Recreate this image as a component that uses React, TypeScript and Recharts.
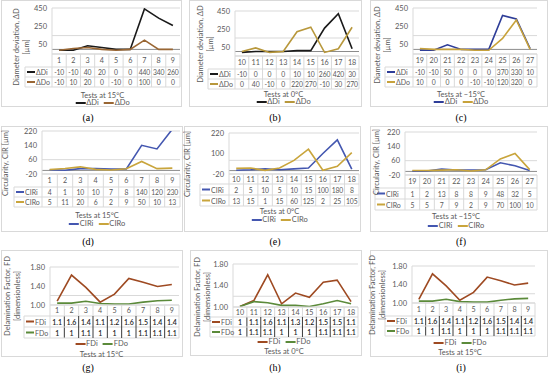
import React from "react";
import { LineChart, Line, XAxis, YAxis, CartesianGrid, ReferenceLine } from "recharts";

const GRID = "#d9d9d9";
const TXT = "#595959";
const FONT = "Lato, 'Liberation Sans', sans-serif";

// test numbers
const tests15 = ["1", "2", "3", "4", "5", "6", "7", "8", "9"];
const tests0 = ["10", "11", "12", "13", "14", "15", "16", "17", "18"];
const testsM15 = ["19", "20", "21", "22", "23", "24", "25", "26", "27"];

// diameter deviation (µm)
const dDi15 = [-10, -10, 40, 20, 0, 0, 440, 340, 260];
const dDo15 = [-10, 10, 20, 0, -10, 0, 100, 0, 0];
const dDi0 = [-10, 0, 0, 0, 10, 10, 260, 420, 30];
const dDo0 = [0, 40, -10, 0, 220, 270, -10, 30, 270];
const dDiM15 = [-10, -10, 50, 0, 0, 0, 370, 330, 10];
const dDoM15 = [10, 0, 0, 0, -10, -10, 120, 320, 0];

// circularity (µm)
const cirI15 = [4, 1, 10, 10, 7, 8, 140, 120, 230];
const cirO15 = [5, 11, 20, 6, 2, 9, 50, 10, 13];
const cirI0 = [2, 5, 10, 5, 10, 15, 100, 180, 8];
const cirO0 = [13, 15, 1, 15, 60, 125, 2, 25, 105];
const cirIM15 = [1, 2, 13, 8, 8, 9, 48, 32, 5];
const cirOM15 = [5, 5, 7, 9, 2, 9, 70, 100, 10];

// delamination factor
const fdI15 = [1.08, 1.63, 1.37, 1.06, 1.23, 1.56, 1.48, 1.39, 1.43];
const fdO15 = [1.04, 1.04, 1.08, 1.03, 1.02, 1.02, 1.06, 1.09, 1.1];
const fdI0 = [1.01, 1.12, 1.6, 1.06, 1.26, 1.18, 1.46, 1.5, 1.1];
const fdO0 = [1.01, 1.1, 1.08, 1.03, 1.03, 1.01, 1.06, 1.12, 1.06];

const dTicks = [-50, 50, 150, 250, 350, 450];
const cirTicks = [-20, 20, 60, 100, 140, 180, 220];
const fdTicks = [1.0, 1.2, 1.4, 1.6, 1.8];

const intFmt = (v: number) => String(v);
const fdFmt = (v: number) => String(Number(v.toFixed(1)));

type Cfg = {
  label: string;
  box: number[];
  plot: number[];
  header: number;
  catH: number;
  rowH: number;
  yTitle: string[];
  yT: number[];
  xTitle: string;
  xTitleY: number;
  legendY: number;
  labelPos: number[];
  cats: string[];
  names: string[];
  s1: number[];
  s2: number[];
  colors: string[];
  domain: number[];
  ticks: number[];
  tickFmt: (v: number) => string;
  valFmt: (v: number) => string;
  zero: boolean;
  fd?: boolean;
};

const dTitle = ["Diameter deviation, ΔD", "[µm]"];
const cTitle = ["Circularity, CIR [µm]"];
const fTitle = ["Delamination Factor, FD", "[dimensionless]"];

const panels: Cfg[] = [
  {
    label: "(a)", box: [1, 0, 181, 107], plot: [52, 8, 180, 54], header: 25, catH: 13, rowH: 10,
    yTitle: dTitle, yT: [22, 47], xTitle: "Tests at 15°C", xTitleY: 95, legendY: 103, labelPos: [88, 117],
    cats: tests15, names: ["ΔDi", "ΔDo"], s1: dDi15, s2: dDo15, colors: ["#1a1a1a", "#996633"],
    domain: [-50, 450], ticks: dTicks, tickFmt: intFmt, valFmt: intFmt, zero: true,
  },
  {
    label: "(b)", box: [189, 0, 173, 107], plot: [235, 11, 359, 56], header: 208, catH: 13, rowH: 10,
    yTitle: dTitle, yT: [206, 44], xTitle: "Tests at 0°C", xTitleY: 94, legendY: 102, labelPos: [275, 117],
    cats: tests0, names: ["ΔDi", "ΔDo"], s1: dDi0, s2: dDo0, colors: ["#1a1a1a", "#b8983c"],
    domain: [-50, 450], ticks: dTicks, tickFmt: intFmt, valFmt: intFmt, zero: true,
  },
  {
    label: "(c)", box: [370, 0, 178, 107], plot: [413, 8, 537, 54], header: 385, catH: 13, rowH: 10,
    yTitle: dTitle, yT: [383, 45], xTitle: "Tests at −15°C", xTitleY: 94, legendY: 102, labelPos: [461, 117],
    cats: testsM15, names: ["ΔDi", "ΔDo"], s1: dDiM15, s2: dDoM15, colors: ["#2e3d98", "#c7a23b"],
    domain: [-50, 450], ticks: dTicks, tickFmt: intFmt, valFmt: intFmt, zero: true,
  },
  {
    label: "(d)", box: [1, 126, 182, 106], plot: [42, 131, 180, 174], header: 14, catH: 13, rowH: 10,
    yTitle: cTitle, yT: [6, 163], xTitle: "Tests at 15°C", xTitleY: 215, legendY: 224, labelPos: [88, 241],
    cats: tests15, names: ["CIRi", "CIRo"], s1: cirI15, s2: cirO15, colors: ["#4457b0", "#c9a53c"],
    domain: [-20, 220], ticks: cirTicks, tickFmt: intFmt, valFmt: intFmt, zero: true,
  },
  {
    label: "(e)", box: [184, 126, 177, 106], plot: [229, 133, 359, 174], header: 200, catH: 10, rowH: 11,
    yTitle: cTitle, yT: [188, 164], xTitle: "Tests at 0°C", xTitleY: 211, legendY: 220, labelPos: [275, 241],
    cats: tests0, names: ["CIRi", "CIRo"], s1: cirI0, s2: cirO0, colors: ["#4457b0", "#c9a53c"],
    domain: [-20, 220], ticks: cirTicks, tickFmt: intFmt, valFmt: intFmt, zero: true,
  },
  {
    label: "(f)", box: [370, 126, 178, 106], plot: [405, 132, 537, 175], header: 375, catH: 13, rowH: 11,
    yTitle: cTitle, yT: [377, 162], xTitle: "Tests at −15°C", xTitleY: 216, legendY: 226, labelPos: [461, 241],
    cats: testsM15, names: ["CIRi", "CIRo"], s1: cirIM15, s2: cirOM15, colors: ["#4457b0", "#c9a53c"],
    domain: [-20, 220], ticks: cirTicks, tickFmt: intFmt, valFmt: intFmt, zero: true,
  },
  {
    label: "(g)", box: [1, 250, 182, 107], plot: [50, 267, 179, 305], header: 24, catH: 11, rowH: 11,
    yTitle: fTitle, yT: [13, 296], xTitle: "Tests at 15°C", xTitleY: 354, legendY: 344, labelPos: [88, 367],
    cats: tests15, names: ["FDi", "FDo"], s1: fdI15, s2: fdO15, colors: ["#9e4a22", "#5b8a3a"],
    domain: [1, 1.8], ticks: fdTicks, tickFmt: (v) => v.toFixed(2), valFmt: fdFmt, zero: false, fd: true,
  },
  {
    label: "(h)", box: [190, 250, 172, 106], plot: [233, 264, 358, 307], header: 210, catH: 10, rowH: 10,
    yTitle: fTitle, yT: [203, 297], xTitle: "Tests at 0°C", xTitleY: 351, legendY: 342, labelPos: [275, 367],
    cats: tests0, names: ["FDi", "FDo"], s1: fdI0, s2: fdO0, colors: ["#9e4a22", "#5b8a3a"],
    domain: [1, 1.8], ticks: fdTicks, tickFmt: (v) => v.toFixed(2), valFmt: fdFmt, zero: false, fd: true,
  },
  {
    label: "(i)", box: [370, 250, 178, 107], plot: [412, 266, 535, 303], header: 385, catH: 13, rowH: 10,
    yTitle: fTitle, yT: [378, 295], xTitle: "Tests at 15°C", xTitleY: 352, legendY: 343, labelPos: [461, 367],
    cats: tests15, names: ["FDi", "FDo"], s1: fdI15, s2: fdO15, colors: ["#9e4a22", "#5b8a3a"],
    domain: [1, 1.8], ticks: fdTicks, tickFmt: (v) => v.toFixed(2), valFmt: fdFmt, zero: false, fd: true,
  },
];

function TableTick(p: any, c: Cfg) {
  const { x, index } = p;
  const [bx, by] = c.box;
  const [px1, , px2, py2] = c.plot;
  const colW = (px2 - px1) / c.cats.length;
  const top = py2 - by;
  const y1 = top + c.catH;
  const y2 = y1 + c.rowH;
  const y3 = y2 + c.rowH;
  const r = x + colW / 2;
  const L = px1 - bx;
  const R = px2 - bx;
  const hx = c.header - bx;
  const inner = c.fd && index < c.cats.length - 1 ? "#3a3a3a" : GRID;
  const valStyle = c.fd
    ? { fontSize: 7, fill: "#262626", fontWeight: 600, fontFamily: FONT }
    : { fontSize: 6.8, fill: TXT, fontWeight: 400, fontFamily: FONT, letterSpacing: -0.15 };
  return (
    <g>
      <line x1={r} x2={r} y1={top} y2={y1} stroke={GRID} />
      <line x1={r} x2={r} y1={y1} y2={y3} stroke={inner} />
      <text x={x} y={top + c.catH / 2} textAnchor="middle" dominantBaseline="central" fontSize={7.2} fill={TXT} fontFamily={FONT}>
        {p.payload.value}
      </text>
      <text x={x} y={y1 + c.rowH / 2} textAnchor="middle" dominantBaseline="central" {...valStyle}>
        {c.valFmt(c.s1[index])}
      </text>
      <text x={x} y={y2 + c.rowH / 2} textAnchor="middle" dominantBaseline="central" {...valStyle}>
        {c.valFmt(c.s2[index])}
      </text>
      {index === 0 && (
        <g>
          <line x1={L} x2={R} y1={top} y2={top} stroke={GRID} />
          <line x1={hx} x2={R} y1={y1} y2={y1} stroke={GRID} />
          <line x1={hx} x2={R} y1={y2} y2={y2} stroke={GRID} />
          <line x1={hx} x2={R} y1={y3} y2={y3} stroke={GRID} />
          <line x1={hx} x2={hx} y1={y1} y2={y3} stroke={GRID} />
          <line x1={L} x2={L} y1={top} y2={y3} stroke={GRID} />
          {[0, 1].map((k) => {
            const cy = (k === 0 ? y1 : y2) + c.rowH / 2;
            return (
              <g key={k}>
                <line x1={hx + 2} x2={hx + 10} y1={cy} y2={cy} stroke={c.colors[k]} strokeWidth={2} />
                <text x={hx + 11} y={cy} dominantBaseline="central" fontSize={7} fill={TXT} fontFamily={FONT}>
                  {c.names[k]}
                </text>
              </g>
            );
          })}
        </g>
      )}
    </g>
  );
}

function Panel({ c }: { c: Cfg }) {
  const [bx, by, bw, bh] = c.box;
  const [px1, py1, px2, py2] = c.plot;
  const colW = (px2 - px1) / c.cats.length;
  const data = c.cats.map((cat, i) => ({ cat, v1: c.s1[i], v2: c.s2[i] }));
  const midX = (c.header + px2) / 2 - bx;
  const text = { fontFamily: FONT, fontSize: 7.5, color: TXT, whiteSpace: "nowrap" as const };
  return (
    <div style={{ position: "absolute", left: bx, top: by, width: bw, height: bh }}>
      <div style={{ position: "absolute", inset: 0, border: `1px solid ${GRID}` }} />
      <LineChart
        width={bw}
        height={bh}
        data={data}
        margin={{ top: py1 - by, right: bx + bw - px2, bottom: 0, left: 0 }}
        style={{ position: "absolute", left: 0, top: 0 }}
      >
        <CartesianGrid vertical={false} stroke={GRID} />
        <XAxis
          dataKey="cat"
          interval={0}
          height={bh - (py2 - by)}
          padding={{ left: colW / 2, right: colW / 2 }}
          axisLine={false}
          tickLine={false}
          tick={(p: any) => TableTick(p, c)}
        />
        <YAxis
          width={px1 - bx}
          domain={c.domain}
          ticks={c.ticks}
          type="number"
          allowDataOverflow
          tickFormatter={c.tickFmt}
          tickLine={false}
          tickSize={0}
          tickMargin={5}
          axisLine={{ stroke: GRID }}
          tick={{ fontSize: 7.5, fill: TXT, fontFamily: FONT }}
        />
        {c.zero && <ReferenceLine y={0} stroke="#8c8c8c" />}
        <Line type="linear" dataKey="v1" stroke={c.colors[0]} strokeWidth={1.6} dot={false} isAnimationActive={false} />
        <Line type="linear" dataKey="v2" stroke={c.colors[1]} strokeWidth={1.6} dot={false} isAnimationActive={false} />
      </LineChart>
      <div
        style={{
          ...text,
          position: "absolute",
          left: c.yT[0] - bx,
          top: c.yT[1] - by,
          transform: "translate(-50%, -50%) rotate(-90deg)",
          textAlign: "center",
          lineHeight: "10px",
        }}
      >
        {c.yTitle.map((t) => (
          <div key={t}>{t}</div>
        ))}
      </div>
      <div style={{ ...text, position: "absolute", left: midX, top: c.xTitleY - by, transform: "translate(-50%, -50%)" }}>
        {c.xTitle}
      </div>
      <div
        style={{
          ...text,
          position: "absolute",
          left: midX,
          top: c.legendY - by,
          transform: "translate(-50%, -50%)",
          display: "flex",
          alignItems: "center",
          gap: 5,
          lineHeight: "8px",
        }}
      >
        {c.names.map((n, k) => (
          <span key={n} style={{ display: "flex", alignItems: "center" }}>
            <span style={{ display: "inline-block", width: 10, height: 2, background: c.colors[k], marginRight: 1 }} />
            {n}
          </span>
        ))}
      </div>
    </div>
  );
}

export default function App() {
  return (
    <div style={{ position: "fixed", left: 0, top: 0, width: 550, height: 378, background: "#fff", overflow: "hidden" }}>
      {panels.map((c) => (
        <Panel key={c.label} c={c} />
      ))}
      {panels.map((c) => (
        <div
          key={c.label + "l"}
          style={{
            position: "absolute",
            left: c.labelPos[0],
            top: c.labelPos[1],
            transform: "translate(-50%, -50%)",
            fontFamily: "'Liberation Serif', serif",
            fontSize: 10,
            color: "#000",
          }}
        >
          {c.label}
        </div>
      ))}
    </div>
  );
}
